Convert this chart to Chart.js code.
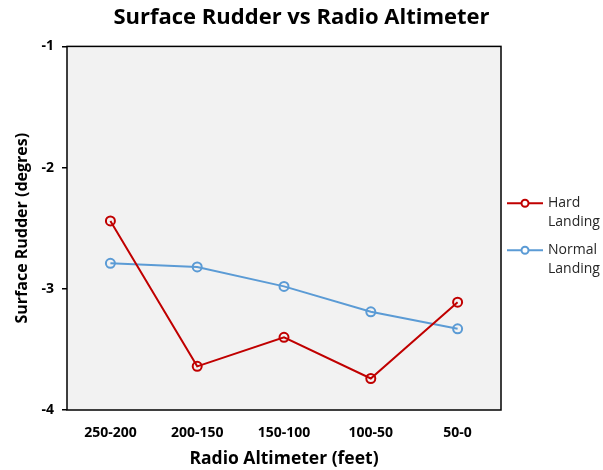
<!DOCTYPE html>
<html><head><meta charset="utf-8">
<script src="https://cdn.jsdelivr.net/npm/chart.js@4.4.0/dist/chart.umd.min.js"></script>
<style>html,body{margin:0;padding:0;background:#fff}#wrap{width:603px;height:470px;position:relative}</style>
</head><body><div id="wrap"><canvas id="c"></canvas></div>
<script>
const categories = ['250-200', '200-150', '150-100', '100-50', '50-0'];
const hardLanding = [-2.44, -3.64, -3.40, -3.74, -3.11];
const normalLanding = [-2.79, -2.82, -2.98, -3.19, -3.33];
const yTicks = [-1, -2, -3, -4];
const seriesLabels = ['Hard Landing', 'Normal Landing'];
const seriesColors = ['#C00000', '#5B9BD5'];

const FONT = "'Open Sans', sans-serif";

const plotBg = {
  id: 'plotBg',
  beforeDatasetsDraw(chart) {
    const {ctx, chartArea: a} = chart;
    ctx.save();
    ctx.fillStyle = '#F2F2F2';
    ctx.fillRect(a.left, a.top, a.right - a.left, a.bottom - a.top);
    ctx.restore();
  },
  afterDatasetsDraw(chart) {
    const {ctx, chartArea: a} = chart;
    ctx.save();
    ctx.strokeStyle = '#000';
    ctx.lineWidth = 1.5;
    ctx.strokeRect(a.left, a.top, a.right - a.left, a.bottom - a.top);
    ctx.restore();
  }
};

const sideLegend = {
  id: 'sideLegend',
  afterDraw(chart) {
    const {ctx, chartArea: a} = chart;
    const mid = (a.top + a.bottom) / 2;
    const x0 = a.right + 6, x1 = a.right + 42, xt = a.right + 47;
    ctx.save();
    chart.data.datasets.forEach((ds, i) => {
      const y = mid - 25 + i * 47;
      ctx.strokeStyle = ds.borderColor;
      ctx.lineWidth = 2;
      ctx.beginPath(); ctx.moveTo(x0, y); ctx.lineTo(x1, y); ctx.stroke();
      ctx.beginPath(); ctx.arc((x0 + x1) / 2, y, 3.5, 0, Math.PI * 2);
      ctx.fillStyle = '#fff'; ctx.fill(); ctx.stroke();
      ctx.fillStyle = '#262626';
      ctx.font = "14px " + FONT;
      ctx.textAlign = 'left'; ctx.textBaseline = 'middle';
      const words = ds.label.split(' ');
      words.forEach((w, j) => ctx.fillText(w, xt, y + j * 19));
    });
    ctx.restore();
  }
};

const mkDs = (label, data, color) => ({
  label, data, yAxisID: 'y',
  borderColor: color, backgroundColor: 'rgba(0,0,0,0)',
  borderWidth: 2, pointRadius: 4.5, pointHoverRadius: 4.5,
  pointBorderWidth: 2, pointBackgroundColor: 'rgba(0,0,0,0)',
  pointBorderColor: color, tension: 0
});

new Chart(document.getElementById('c'), {
  type: 'line',
  data: {
    labels: categories,
    datasets: [
      mkDs(seriesLabels[0], hardLanding, seriesColors[0]),
      mkDs(seriesLabels[1], normalLanding, seriesColors[1])
    ]
  },
  options: {
    responsive: true, maintainAspectRatio: false, animation: false,
    layout: {padding: {left: 0, right: 0, top: 0, bottom: 0}},
    plugins: {
      legend: {display: false},
      tooltip: {enabled: false},
      title: {
        display: true, text: 'Surface Rudder vs Radio Altimeter',
        color: '#000', font: {family: FONT, size: 22, weight: 'bold'},
        padding: {top: 5, bottom: 15}
      }
    },
    scales: {
      x: {
        offset: true,
        grid: {display: false, drawTicks: false},
        border: {display: false},
        ticks: {color: '#000', font: {family: FONT, size: 14, weight: 'bold'}, padding: 15, maxRotation: 0},
        title: {display: true, text: 'Radio Altimeter (feet)', color: '#000',
          font: {family: FONT, size: 17.5, weight: 'bold'}, padding: {top: 0, bottom: 0}},
        afterFit(s) { s.height = 60; }
      },
      y: {
        min: Math.min(...yTicks), max: Math.max(...yTicks),
        afterBuildTicks(s) { s.ticks = yTicks.map(v => ({value: v})); },
        grid: {display: true, drawOnChartArea: false, drawTicks: true, tickLength: 5, color: '#000', lineWidth: 1.5},
        border: {display: false},
        ticks: {color: '#000', font: {family: FONT, size: 14, weight: 'bold'}, padding: 8},
        title: {display: true, text: 'Surface Rudder (degres)', color: '#000',
          font: {family: FONT, size: 16, weight: 'bold'}, padding: {top: 13, bottom: 0}},
        afterFit(s) { s.width = 67; }
      },
      legendSpace: {
        position: 'right', display: true,
        grid: {display: false, drawTicks: false},
        border: {display: false},
        ticks: {display: false},
        afterFit(s) { s.width = 102; }
      }
    }
  },
  plugins: [plotBg, sideLegend]
});
</script></body></html>
